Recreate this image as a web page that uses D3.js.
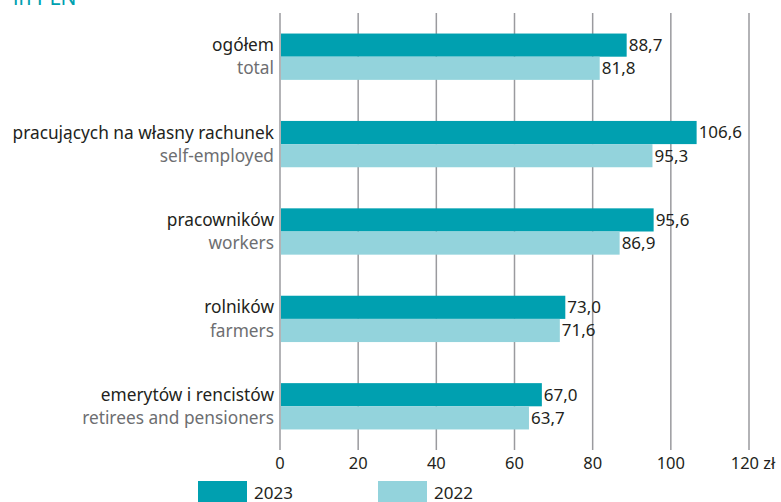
<!DOCTYPE html>
<html>
<head>
<meta charset="utf-8">
<script src="https://cdn.jsdelivr.net/npm/d3@7"></script>
<style>
	body { margin: 0; background: #fff; }
	svg { display: block; font-family: "Noto Sans", sans-serif; }
</style>
</head>
<body>
<div id="chart"></div>
<script>
const categoriesPl = ["ogółem", "pracujących na własny rachunek", "pracowników", "rolników", "emerytów i rencistów"];
const categoriesEn = ["total", "self-employed", "workers", "farmers", "retirees and pensioners"];
const series = ["2023", "2022"];
const values2023 = [88.7, 106.6, 95.6, 73.0, 67.0];
const values2022 = [81.8, 95.3, 86.9, 71.6, 63.7];
const ticks = [0, 20, 40, 60, 80, 100, 120];

const colors = { "2023": "#00a0b0", "2022": "#93d3dc" };

function makeChart() {
	const width = 781;
	const height = 502;

	const data = categoriesPl.map((c, i) => ({
		pl: c,
		en: categoriesEn[i],
		vals: [{ key: "2023", v: values2023[i] }, { key: "2022", v: values2022[i] }]
	}));

	const x = d3.scaleLinear().domain([0, 120]).range([280, 749]);

	const y = d3.scaleBand()
		.domain(categoriesPl)
		.range([13, 450])
		.paddingInner(0.47)
		.paddingOuter(0.235);

	const ySub = d3.scaleBand()
		.domain(series)
		.range([0, y.bandwidth()]);

	const fmt = v => d3.format(".1f")(v).replace(".", ",");

	const svg = d3.create("svg")
		.attr("width", width)
		.attr("height", height)
		.attr("viewBox", [0, 0, width, height]);

	// unit label, cut off at the top like the original
	svg.append("text")
		.attr("x", 13)
		.attr("y", 5)
		.attr("fill", "#00a0b0")
		.style("font-size", "21px")
		.text("in PLN");

	// gridlines
	svg.append("g")
		.selectAll("line")
		.data(ticks)
		.join("line")
			.attr("x1", d => x(d))
			.attr("x2", d => x(d))
			.attr("y1", 13)
			.attr("y2", 450)
			.attr("stroke", "#9a9a9e")
			.attr("stroke-width", 1.5);

	// tick labels
	svg.append("g")
		.attr("text-anchor", "middle")
		.style("font-size", "16.5px")
		.attr("fill", "#231f20")
		.selectAll("text")
		.data(ticks)
		.join("text")
			.attr("x", d => x(d) + (d === 120 ? 4 : 0))
			.attr("y", 469)
			.text(d => d === 120 ? "120 zł" : d);

	const group = svg.append("g")
		.selectAll("g")
		.data(data)
		.join("g")
			.attr("transform", d => `translate(0,${y(d.pl)})`);

	group.selectAll("rect")
		.data(d => d.vals)
		.join("rect")
			.attr("x", x(0) + 1)
			.attr("y", d => ySub(d.key))
			.attr("width", d => x(d.v) - x(0) - 1)
			.attr("height", ySub.bandwidth())
			.attr("fill", d => colors[d.key]);

	group.selectAll("text.val")
		.data(d => d.vals)
		.join("text")
			.attr("class", "val")
			.attr("x", d => x(d.v) + 2)
			.attr("y", d => ySub(d.key) + ySub.bandwidth() / 2)
			.attr("dy", "0.35em")
			.attr("fill", "#231f20")
			.style("font-size", "17px")
			.text(d => fmt(d.v));

	group.append("text")
		.attr("x", 274)
		.attr("y", ySub.bandwidth() / 2)
		.attr("dy", "0.35em")
		.attr("text-anchor", "end")
		.attr("fill", "#231f20")
		.style("font-size", "17.3px")
		.text(d => d.pl);

	group.append("text")
		.attr("x", 274)
		.attr("y", ySub("2022") + ySub.bandwidth() / 2)
		.attr("dy", "0.35em")
		.attr("text-anchor", "end")
		.attr("fill", "#6d6e71")
		.style("font-size", "17.3px")
		.text(d => d.en);

	// legend
	const legendX = { "2023": 198, "2022": 378 };
	const legend = svg.append("g")
		.selectAll("g")
		.data(series)
		.join("g")
			.attr("transform", d => `translate(${legendX[d]},481)`);

	legend.append("rect")
		.attr("width", 49)
		.attr("height", 22)
		.attr("fill", d => colors[d]);

	legend.append("text")
		.attr("x", 56)
		.attr("y", 18)
		.attr("fill", "#231f20")
		.style("font-size", "17px")
		.text(d => d);

	d3.select("#chart").node().appendChild(svg.node());
}

makeChart();
</script>
</body>
</html>
